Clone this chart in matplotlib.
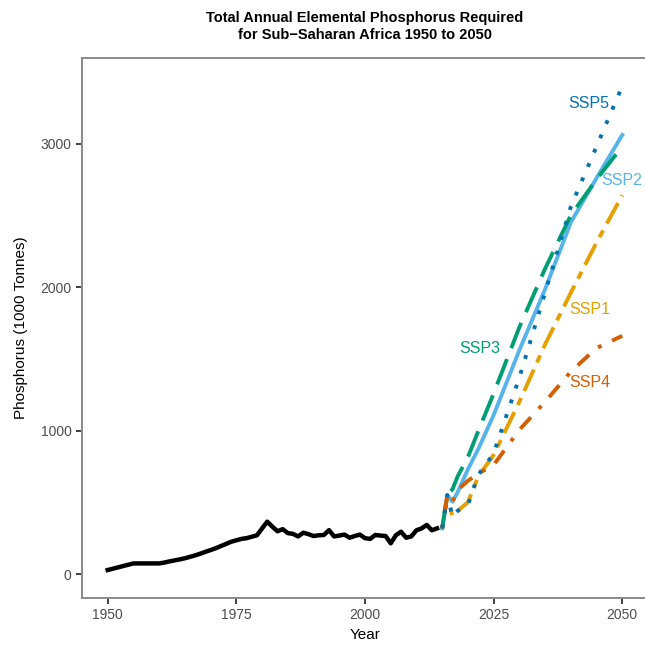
import matplotlib
matplotlib.use("Agg")
import matplotlib.pyplot as plt

plt.rcParams['font.family'] = ['Liberation Sans', 'DejaVu Sans']

# historic series (1000 tonnes)
hist_years = [1950, 1955, 1960] + list(range(1961, 2015))
hist_vals = [28, 74, 74,
             80, 88, 95, 102, 110, 120, 130, 142, 155, 167,
             180, 195, 210, 225, 235, 245, 250, 260, 270, 318,
             365, 330, 298, 313, 285, 280, 262, 288, 278, 265,
             270, 272, 306, 262, 268, 275, 253, 265, 275, 250,
             245, 272, 268, 265, 214, 270, 295, 253, 262, 305,
             318, 342, 305, 318]

# scenario projections
proj_years = [2015, 2016, 2017, 2018, 2020, 2022, 2025, 2030, 2035, 2040, 2045, 2050]
ssp1 = [318, 550, 400, 440, 500, 680, 830, 1200, 1600, 1960, 2310, 2640]
ssp2 = [318, 550, 504, 570, 730, 870, 1108, 1560, 1985, 2450, 2760, 3060]
ssp3 = [318, 550, 590, 680, 815, 995, 1258, 1720, 2128, 2500, 2750, 2980]
ssp4 = [318, 550, 504, 585, 650, 700, 760, 1005, 1200, 1410, 1575, 1660]
ssp5 = [318, 550, 400, 440, 481, 690, 840, 1370, 1960, 2560, 2980, 3400]

scenarios = ["SSP1", "SSP2", "SSP3", "SSP4", "SSP5"]
colors = ["#E69F00", "#56B4E9", "#009E73", "#D55E00", "#0072B2"]
dashes = [(2, 2, 6, 2), None, (7, 3), (1, 3, 4, 3), (1, 3)]
label_x = [2043.6, 2049.8, 2022.4, 2043.6, 2043.4]
label_y = [1840, 2739, 1575, 1338, 3282]

fig = plt.figure(figsize=(6.45, 6.47), dpi=100)
ax = fig.add_axes([82 / 645, 1 - 598 / 647, 566 / 645, 540 / 647])

ax.plot(hist_years, hist_vals, color="black", lw=3.2, solid_joinstyle="round")

for name, vals, col, ds in zip(scenarios, [ssp1, ssp2, ssp3, ssp4, ssp5], colors, dashes):
    line, = ax.plot(proj_years, vals, color=col, lw=2.8)
    if ds is not None:
        line.set_dashes(ds)
        line.set_dash_capstyle("butt")

for name, col, lx, ly in zip(scenarios, colors, label_x, label_y):
    ax.text(lx, ly, name, color=col, fontsize=11.5, ha="center", va="center")

ax.set_xlim(1945, 2055)
ax.set_ylim(-167, 3596)
ax.set_xticks([1950, 1975, 2000, 2025, 2050])
ax.set_yticks([0, 1000, 2000, 3000])

for side in ["left", "bottom", "top"]:
    ax.spines[side].set_color("#8a8a8a")
    ax.spines[side].set_linewidth(1.4)
ax.spines["right"].set_visible(False)
ax.tick_params(direction="out", length=4, width=1.3, color="#333333",
               labelcolor="#4d4d4d", labelsize=10)

ax.set_xlabel("Year", fontsize=11, labelpad=4)
ax.set_ylabel("Phosphorus (1000 Tonnes)", fontsize=11, labelpad=9)
ax.set_title("Total Annual Elemental Phosphorus Required\nfor Sub\u2212Saharan Africa 1950 to 2050",
             fontsize=10.5, fontweight="bold", pad=14)

fig.savefig("out.png", dpi=100)
